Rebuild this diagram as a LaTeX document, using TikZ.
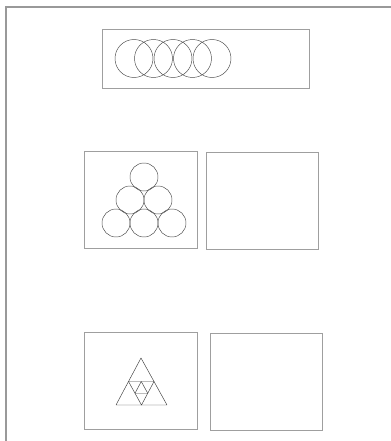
\documentclass[tikz,border=0pt]{standalone}
\usepackage{tikz}
\usetikzlibrary{calc}

\begin{document}
\begin{tikzpicture}[
        x=0.03cm,y=-0.03cm,
        frame/.style={draw=gray!80,line width=1.2pt},
        box/.style={draw=gray!75,line width=0.5pt,inner sep=0pt},
        ball/.style={circle,draw=black!70,line width=0.4pt,inner sep=0pt},
        tri/.style={draw=black!75,line width=0.4pt,line join=round}
      ]
      \useasboundingbox (0,0) rectangle (391,441);
      \coordinate (tl) at (6,7);
      \coordinate (tr) at (391,7);
      \coordinate (bl) at (6,441);
      \draw[frame] (tr) -- (tl) -- (bl);

      % top strip: overlapping circles
      \node[box,minimum width=6.21cm,minimum height=1.77cm] (strip) at (205.5,58.5) {};
      \foreach \i in {0,...,4}
        \node[ball,minimum size=1.14cm] (ring\i) at (134+19.5*\i,58.5) {};

      % middle pair: stacked circles
      \node[box,minimum width=3.39cm,minimum height=2.91cm] (stackbox) at (140.5,199.5) {};
      \node[box,minimum width=3.36cm,minimum height=2.91cm] (stackempty) at (262,200.5) {};
      \node[ball,minimum size=0.84cm] (s1) at (144,177) {};
      \node[ball,minimum size=0.84cm] (s2) at (130,200) {};
      \node[ball,minimum size=0.84cm] (s3) at (158,200) {};
      \node[ball,minimum size=0.84cm] (s4) at (116,223) {};
      \node[ball,minimum size=0.84cm] (s5) at (144,223) {};
      \node[ball,minimum size=0.84cm] (s6) at (172,223) {};

      % bottom pair: subdivided triangle
      \node[box,minimum width=3.39cm,minimum height=2.91cm] (tribox) at (140.5,380.5) {};
      \node[box,minimum width=3.36cm,minimum height=2.91cm] (triempty) at (266,381.5) {};
      \coordinate (ta) at (141,358);
      \coordinate (tb) at (116,405);
      \coordinate (tc) at (167,405);
      \coordinate (mab) at ($(ta)!0.5!(tb)$);
      \coordinate (mac) at ($(ta)!0.5!(tc)$);
      \coordinate (mbc) at ($(tb)!0.5!(tc)$);
      \draw[tri] (ta) -- (tb) -- (tc) -- cycle;
      \draw[tri] (mab) -- (mac) -- (mbc) -- cycle;
      \draw[tri] ($(mab)!0.5!(mac)$) -- ($(mab)!0.5!(mbc)$) -- ($(mac)!0.5!(mbc)$) -- cycle;
    \end{tikzpicture}
\end{document}
